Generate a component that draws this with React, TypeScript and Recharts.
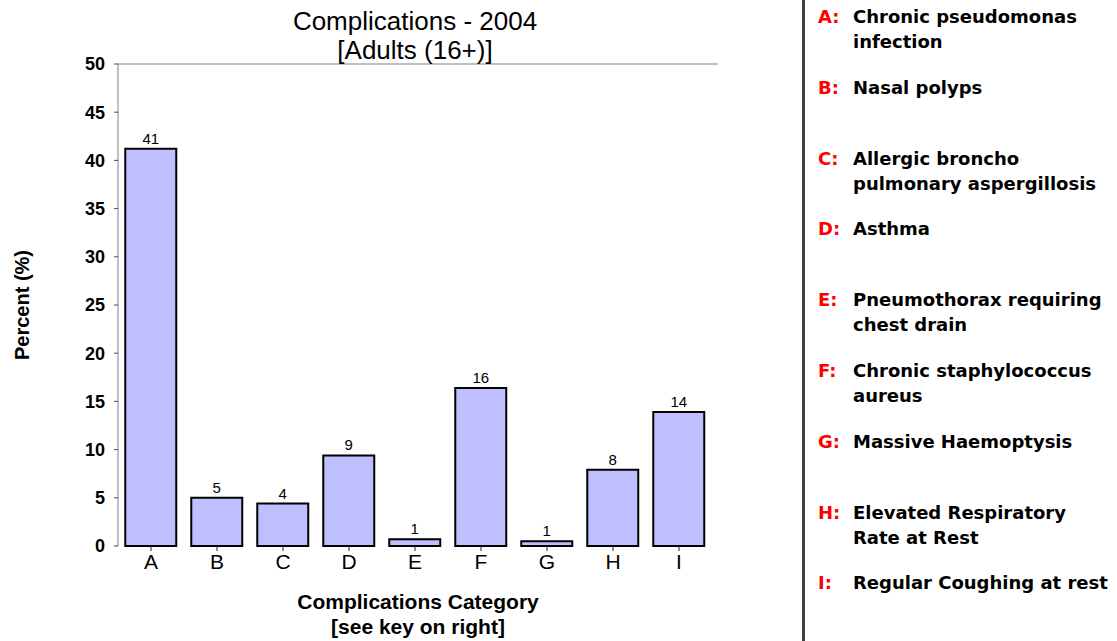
import React from 'react'
import { BarChart, Bar, XAxis, YAxis, ReferenceLine, LabelList } from 'recharts'

const categories = ['A', 'B', 'C', 'D', 'E', 'F', 'G', 'H', 'I']
const percents = [41.2, 5, 4.4, 9.4, 0.7, 16.4, 0.5, 7.9, 13.9]
const yTicks = [0, 5, 10, 15, 20, 25, 30, 35, 40, 45, 50]
const keyLabels = [
  ['Chronic pseudomonas', 'infection'],
  ['Nasal polyps'],
  ['Allergic broncho', 'pulmonary aspergillosis'],
  ['Asthma'],
  ['Pneumothorax requiring', 'chest drain'],
  ['Chronic staphylococcus', 'aureus'],
  ['Massive Haemoptysis'],
  ['Elevated Respiratory', 'Rate at Rest'],
  ['Regular Coughing at rest'],
]

const data = categories.map((c, i) => ({ cat: c, value: percents[i] }))

const sans = '"Liberation Sans", Arial, sans-serif'
const keyFont = '"DejaVu Sans", Verdana, sans-serif'

export default function App() {
  return (
    <div style={{ position: 'absolute', left: 0, top: 0, width: 1117, height: 641, background: '#fff', overflow: 'hidden' }}>
      <BarChart
        width={800}
        height={641}
        data={data}
        margin={{ top: 64, right: 82, bottom: 65, left: 78 }}
        barCategoryGap="11%"
      >
        <ReferenceLine y={50} stroke="#808080" strokeWidth={1} />
        <XAxis
          dataKey="cat"
          height={30}
          axisLine={false}
          tickLine={{ stroke: '#202020', strokeWidth: 1 }}
          tickSize={5}
          padding={{ left: 0, right: 6 }}
          tick={{ fill: '#000', fontFamily: sans, fontSize: 21 }}
          tickMargin={3}
        />
        <YAxis
          domain={[0, 50]}
          ticks={yTicks}
          interval={0}
          width={40}
          axisLine={{ stroke: '#808080', strokeWidth: 1 }}
          tickLine={{ stroke: '#4040a0', strokeWidth: 1 }}
          tickSize={4}
          tick={{ fill: '#000', fontFamily: sans, fontSize: 18, fontWeight: 'bold' }}
          tickMargin={9}
        />
        <Bar dataKey="value" fill="#bfbfff" stroke="#000" strokeWidth={2} isAnimationActive={false}>
          <LabelList
            dataKey="value"
            position="top"
            offset={5}
            formatter={(v: number) => Math.round(v)}
            style={{ fill: '#000', fontFamily: sans, fontSize: 15 }}
          />
        </Bar>
      </BarChart>

      <div style={{ position: 'absolute', left: 215, width: 400, top: 7, textAlign: 'center', fontFamily: sans, fontSize: 26, lineHeight: '29px', color: '#000' }}>
        <div>Complications - 2004</div>
        <div>[Adults (16+)]</div>
      </div>

      <div style={{ position: 'absolute', left: 218, width: 400, top: 589, textAlign: 'center', fontFamily: sans, fontSize: 21, fontWeight: 'bold', lineHeight: '25px', color: '#000' }}>
        <div>Complications Category</div>
        <div>[see key on right]</div>
      </div>

      <div style={{ position: 'absolute', left: 22, top: 305, transform: 'translate(-50%, -50%) rotate(-90deg)', whiteSpace: 'nowrap', fontFamily: sans, fontSize: 20, fontWeight: 'bold', color: '#000' }}>
        Percent (%)
      </div>

      <div style={{ position: 'absolute', left: 802, top: 0, width: 3, height: 641, background: '#404040' }} />

      {keyLabels.map((lines, i) => (
        <div key={categories[i]} style={{ position: 'absolute', left: 818, top: 4 + i * 70.8, fontFamily: keyFont, fontSize: 18, fontWeight: 'bold', lineHeight: '25px' }}>
          <span style={{ position: 'absolute', left: 0, color: '#ff0000' }}>{categories[i]}:</span>
          <div style={{ position: 'absolute', left: 35, whiteSpace: 'nowrap', color: '#000' }}>
            {lines.map((l) => (
              <div key={l}>{l}</div>
            ))}
          </div>
        </div>
      ))}
    </div>
  )
}
